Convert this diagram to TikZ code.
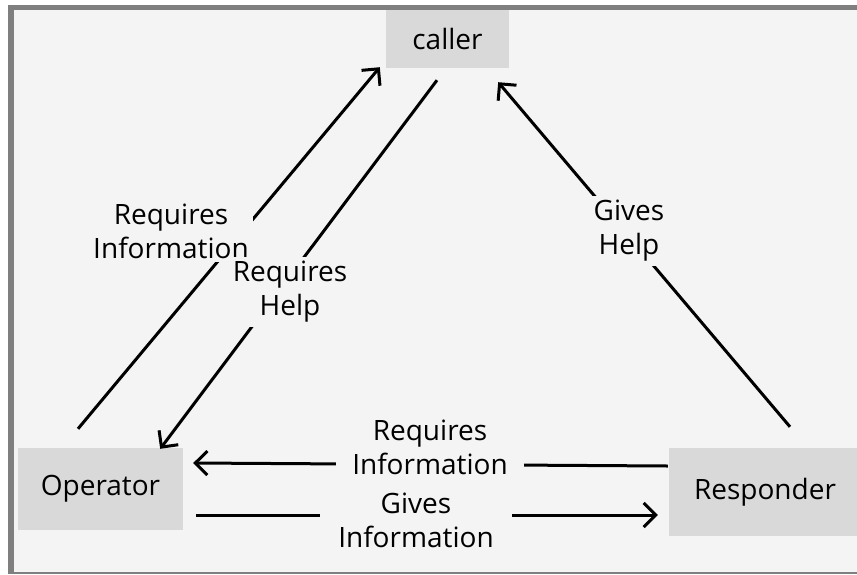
\documentclass[tikz,border=0pt]{standalone}
\usepackage{fontspec}
\setmainfont{Open Sans}
\usetikzlibrary{arrows.meta}
\definecolor{framegray}{HTML}{7F7F7F}
\definecolor{bggray}{HTML}{F4F4F4}
\definecolor{boxgray}{HTML}{D9D9D9}
\begin{document}
\begin{tikzpicture}[x=1pt, y=-1pt,
    every node/.style={font=\fontsize{28}{34}\selectfont},
    box/.style={fill=boxgray, inner sep=0pt},
    lbl/.style={fill=bggray, align=center, inner sep=4pt},
    arr/.style={line width=3pt, -{Straight Barb[length=12pt, width=24pt]}}]
  \useasboundingbox (0,0) rectangle (857,574);
  % frame
  \fill[framegray] (8,5) rectangle (857,574);
  \fill[bggray] (14,10) rectangle (857,572);

  % boxes
  \node[box, minimum width=123pt, minimum height=58pt] (caller) at (447.5,39) {caller};
  \node[box, minimum width=165pt, minimum height=82pt] (op) at (100.5,489) {Operator};
  \node[box, minimum width=192pt, minimum height=88pt] (resp) at (765,492) {Responder};

  % connectors
  \draw[arr] ([shift={(-22.5,-19)}]op.north) -- ([shift={(-6,-1)}]caller.south west);
  \draw[arr] ([shift={(-10.5,12)}]caller.south) -- ([shift={(-23,1)}]op.north east);
  \draw[arr] ([shift={(25,-21)}]resp.north) -- ([shift={(-11,14)}]caller.south east);
  \draw[arr] ([shift={(-1,-26)}]resp.west) -- ([shift={(10,-26)}]op.east);
  \draw[arr] ([shift={(13,26)}]op.east) -- ([shift={(-11,23)}]resp.west);

  % labels
  \node[lbl] (reqinfo) at (171,231) {Requires\\Information};
  \node[lbl] (reqhelp) at (290,292) {Requires\\Help};
  \node[lbl] (giveshelp) at (629,231) {Gives\\Help};
  \node[lbl, inner xsep=16pt] (reqinfo2) at (430,447) {Requires\\Information};
  \node[lbl, inner xsep=18pt] (givesinfo) at (416,520) {Gives\\Information};
\end{tikzpicture}
\end{document}
